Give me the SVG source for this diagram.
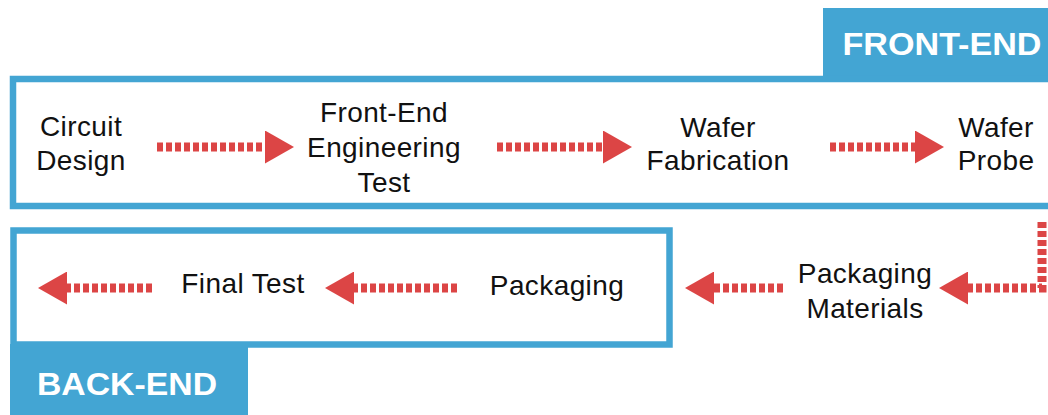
<svg xmlns="http://www.w3.org/2000/svg" width="1048" height="415" viewBox="0 0 1048 415">
  <style>
    .frame { fill: none; stroke: #43a5d3; stroke-width: 6.5; }
    .tab { fill: #43a5d3; }
    .tabtext { font-family: "Liberation Sans", Arial, Helvetica, sans-serif; font-weight: bold; font-size: 32px; fill: #ffffff; text-anchor: middle; }
    .label { font-family: "Liberation Sans", Arial, Helvetica, sans-serif; font-size: 28px; letter-spacing: 0.4px; fill: #111111; text-anchor: middle; }
    .flow { fill: none; stroke: #dc4545; stroke-width: 9; stroke-dasharray: 6 3; }
  </style>
  <defs>
    <marker id="head" viewBox="0 0 29 33" refX="0" refY="16.5" markerWidth="29" markerHeight="33" markerUnits="userSpaceOnUse" orient="auto">
      <polygon points="0,0 29,16.5 0,33" fill="#dc4545"/>
    </marker>
  </defs>
  <rect width="1048" height="415" fill="#ffffff"/>

  <g id="front-end">
    <rect class="tab" x="823" y="8" width="225" height="72"/>
    <rect class="frame" x="13" y="79" width="1045" height="127"/>
    <text class="tabtext" x="942" y="55" textLength="199" lengthAdjust="spacingAndGlyphs">FRONT-END</text>
  </g>

  <g id="back-end">
    <rect class="tab" x="10" y="344" width="238" height="71"/>
    <rect class="frame" x="13.5" y="230.5" width="656" height="114"/>
    <text class="tabtext" x="127" y="395" textLength="180" lengthAdjust="spacingAndGlyphs">BACK-END</text>
  </g>

  <g id="circuit-design">
    <text class="label" x="81" y="136">Circuit</text>
    <text class="label" x="81" y="170">Design</text>
  </g>

  <g id="front-end-engineering-test">
    <text class="label" x="384" y="122">Front-End</text>
    <text class="label" x="384" y="157">Engineering</text>
    <text class="label" x="384" y="192">Test</text>
  </g>

  <g id="wafer-fabrication">
    <text class="label" x="718" y="137">Wafer</text>
    <text class="label" x="718" y="170">Fabrication</text>
  </g>

  <g id="wafer-probe">
    <text class="label" x="996" y="137">Wafer</text>
    <text class="label" x="996" y="170">Probe</text>
  </g>

  <g id="packaging-materials">
    <text class="label" x="865" y="283">Packaging</text>
    <text class="label" x="865" y="318">Materials</text>
  </g>

  <g id="packaging">
    <text class="label" x="557" y="295">Packaging</text>
  </g>

  <g id="final-test">
    <text class="label" x="243" y="293">Final Test</text>
  </g>

  <g id="connectors">
    <path class="flow" d="M157,147 H265" marker-end="url(#head)"/>
    <path class="flow" d="M497,147 H603" marker-end="url(#head)"/>
    <path class="flow" d="M830,147 H915" marker-end="url(#head)"/>
    <path class="flow" d="M1042,222 V288 H968" marker-end="url(#head)"/>
    <path class="flow" d="M783,288 H714" marker-end="url(#head)"/>
    <path class="flow" d="M457,288 H354" marker-end="url(#head)"/>
    <path class="flow" d="M152,288 H67" marker-end="url(#head)"/>
  </g>
</svg>
